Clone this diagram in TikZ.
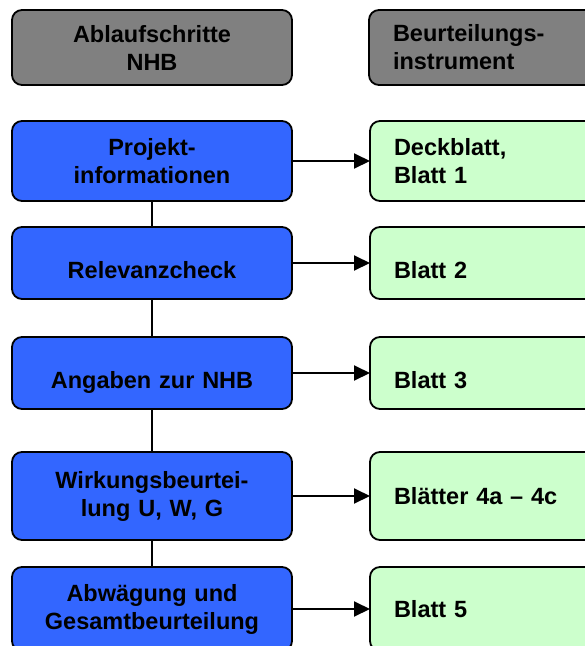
\documentclass[tikz,border=0pt]{standalone}
\usepackage{fontspec}
\setmainfont{Liberation Sans}
\usetikzlibrary{positioning,arrows.meta}

\definecolor{kopfgrau}{RGB}{128,128,128}
\definecolor{ablaufblau}{RGB}{51,102,255}
\definecolor{blattgruen}{RGB}{204,255,204}

\begin{document}
\begin{tikzpicture}[
                        node distance=26pt,
                        >={Triangle[length=16pt,width=15pt]},
                        box/.style={rectangle, draw, line width=1.8pt, outer sep=0pt, rounded corners=10pt,
                                    font=\fontsize{23.5pt}{28pt}\selectfont\bfseries},
                        kopf/.style={box, fill=kopfgrau, minimum height=75pt},
                        ablauf/.style={box, fill=ablaufblau, text width=250pt, inner xsep=15pt, align=center},
                        blatt/.style={box, fill=blattgruen, text width=190pt, inner xsep=24pt, align=left},
                        tief/.style={text height=31pt, text depth=0pt},
                        line width=2pt
                    ]
                    \useasboundingbox (0,0) rectangle (585pt,-646pt);

                    % Blocks
                    \node [kopf, text width=250pt, inner xsep=15pt, align=center] (kopfa) at (152pt,-47.5pt) {Ablaufschritte\\NHB};
                    \node [kopf, text width=190pt, inner xsep=24pt, align=left, right=77pt of kopfa] (kopfb) {Beurteilungs-\\instrument};

                    \node [ablauf, minimum height=80pt, below=36pt of kopfa] (proj) {Projekt-\\informationen};
                    \node [ablauf, tief, minimum height=72pt, below=26pt of proj] (relev) {Relevanzcheck};
                    \node [ablauf, tief, minimum height=72pt, below=38pt of relev] (angab) {Angaben zur NHB};
                    \node [ablauf, minimum height=88pt, below=43pt of angab] (wirk) {Wirkungsbeurtei-\\lung U, W, G};
                    \node [ablauf, minimum height=84pt, below=27pt of wirk] (abw) {Abwägung und\\Gesamtbeurteilung};

                    \node [blatt, minimum height=80pt, right=78pt of proj] (deck) {Deckblatt,\\Blatt 1};
                    \node [blatt, tief, minimum height=72pt, right=78pt of relev] (blzwei) {Blatt 2};
                    \node [blatt, tief, minimum height=72pt, right=78pt of angab] (bldrei) {Blatt 3};
                    \node [blatt, minimum height=88pt, right=78pt of wirk] (blvier) {Blätter 4a – 4c};
                    \node [blatt, minimum height=84pt, right=78pt of abw] (blfuenf) {Blatt 5};

                    % Connections
                    \draw (proj) -- (relev);
                    \draw (relev) -- (angab);
                    \draw (angab) -- (wirk);
                    \draw (wirk) -- (abw);

                    \draw [->] (proj) -- (deck);
                    \draw [->] (relev) -- (blzwei);
                    \draw [->] (angab) -- (bldrei);
                    \draw [->] (wirk) -- (blvier);
                    \draw [->] (abw) -- (blfuenf);
                \end{tikzpicture}
\end{document}
